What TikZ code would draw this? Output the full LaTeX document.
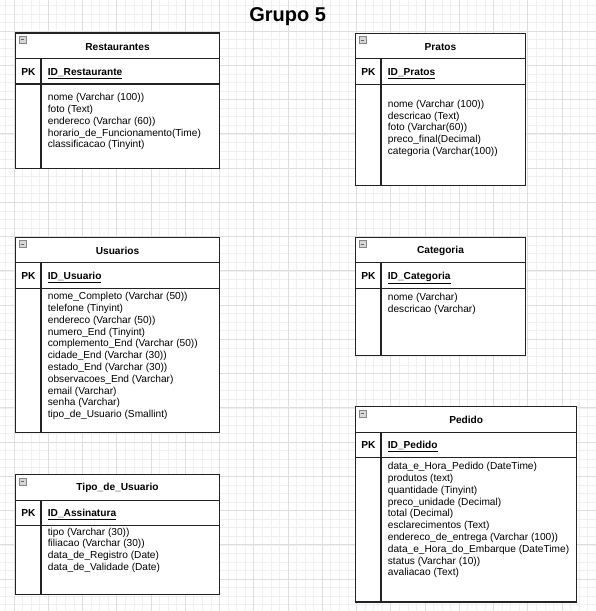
\documentclass[tikz,border=0pt]{standalone}
\usepackage{fontspec}
\setmainfont{Liberation Sans}
\definecolor{gridminor}{RGB}{240,240,240}
\definecolor{gridmajor}{RGB}{222,222,222}
\definecolor{tableline}{RGB}{35,35,35}
\definecolor{iconfill}{RGB}{215,215,215}
\definecolor{iconline}{RGB}{135,135,135}

% one table: name, left, top, right, bottom, title, key, gap to first field, fields
\newcommand{\erTable}[9]{%
    \fill[white] (#2,#3) rectangle (#4,#5);
    \draw[tbl] (#2,#3+25.5) -- (#4,#3+25.5);
    \draw[tbl] (#2,#3+51) -- (#4,#3+51);
    \draw[tbl] (#2+25.3,#3+25.5) -- (#2+25.3,#5);
    \draw[tbl] (#2,#3) rectangle (#4,#5);
    \draw[iconbox] (#2+3.3,#3+3.2) rectangle (#2+10.2,#3+10.1);
    \draw[iconminus] (#2+4.8,#3+6.65) -- (#2+8.7,#3+6.65);
    \node[tabletitle] (#1-title) at ({(#2+#4)/2},#3+13.6) {#6};
    \node[pklabel] (#1-pk) at (#2+12.6,#3+42.2) {PK};
    \node[keyfield] (#1-key) at (#2+32,#3+42.2) {\underline{#7}};
    \foreach \f [count=\i] in {#9} {
        \node[field] (#1-f\i) at ({#2+32},{#3+51+#8+(\i-1)*11.8}) {\f};
    }
}

\begin{document}
\begin{tikzpicture}[x=1pt,y=-1pt,
    minorline/.style={draw=gridminor, line width=0.5pt},
    majorline/.style={draw=gridmajor, line width=0.7pt},
    tbl/.style={draw=tableline, line width=1.2pt},
    iconbox/.style={draw=iconline, fill=iconfill, line width=0.6pt},
    iconminus/.style={draw=black!60, line width=0.9pt},
    tabletitle/.style={inner sep=0pt, font=\bfseries\fontsize{10.15}{12}\selectfont},
    pklabel/.style={anchor=base, inner sep=0pt, font=\bfseries\fontsize{10.15}{12}\selectfont},
    keyfield/.style={anchor=base west, inner sep=0pt, font=\bfseries\fontsize{10.15}{12}\selectfont},
    field/.style={anchor=west, inner sep=0pt, font=\fontsize{10.15}{12}\selectfont}]
    \useasboundingbox (0,0) rectangle (596,611);
    \fill[white] (0,0) rectangle (596,611);

    % background grid
    \foreach \k in {0,...,69} {
        \draw[minorline] ({5.34+8.5625*\k},0) -- ({5.34+8.5625*\k},611);
    }
    \foreach \k in {0,...,71} {
        \draw[minorline] (0,{5.34+8.5625*\k}) -- (596,{5.34+8.5625*\k});
    }
    \foreach \k in {0,...,18} {
        \draw[majorline] ({13.9+34.25*\k},0) -- ({13.9+34.25*\k},611);
        \draw[majorline] (0,{-3.22+34.25*\k}) -- (596,{-3.22+34.25*\k});
    }

    \node[anchor=base, inner sep=0pt, font=\bfseries\fontsize{20}{24}\selectfont] (grupo) at (287.7,21.7) {Grupo 5};

    % tables
    \erTable{rest}{15.7}{33}{219.3}{168.7}{Restaurantes}{ID\_Restaurante}{14}{%
        {nome (Varchar (100))}, {foto (Text)}, {endereco (Varchar (60))},
        {horario\_de\_Funcionamento(Time)}, {classificacao (Tinyint)}}
    \erTable{pratos}{355.7}{33.3}{525.3}{185.7}{Pratos}{ID\_Pratos}{20.3}{%
        {nome (Varchar (100))}, {descricao (Text)}, {foto (Varchar(60))},
        {preco\_final(Decimal)}, {categoria (Varchar(100))}}
    \erTable{usuarios}{15.7}{237.3}{219.3}{432.3}{Usuarios}{ID\_Usuario}{8.7}{%
        {nome\_Completo (Varchar (50))}, {telefone (Tinyint)}, {endereco (Varchar (50))},
        {numero\_End (Tinyint)}, {complemento\_End (Varchar (50))}, {cidade\_End (Varchar (30))},
        {estado\_End (Varchar (30))}, {observacoes\_End (Varchar)}, {email (Varchar)},
        {senha (Varchar)}, {tipo\_de\_Usuario (Smallint)}}
    \erTable{categoria}{355.7}{237.3}{525.3}{355.3}{Categoria}{ID\_Categoria}{9.3}{%
        {nome (Varchar)}, {descricao (Varchar)}}
    \erTable{tipo}{15.7}{474.7}{219.3}{594.3}{Tipo\_de\_Usuario}{ID\_Assinatura}{6.7}{%
        {tipo (Varchar (30))}, {filiacao (Varchar (30))}, {data\_de\_Registro (Date)},
        {data\_de\_Validade (Date)}}
    \erTable{pedido}{355.7}{406.7}{576.7}{602}{Pedido}{ID\_Pedido}{9.3}{%
        {data\_e\_Hora\_Pedido (DateTime)}, {produtos (text)}, {quantidade (Tinyint)},
        {preco\_unidade (Decimal)}, {total (Decimal)}, {esclarecimentos (Text)},
        {endereco\_de\_entrega (Varchar (100))}, {data\_e\_Hora\_do\_Embarque (DateTime)},
        {status (Varchar (10))}, {avaliacao (Text)}}
\end{tikzpicture}
\end{document}
